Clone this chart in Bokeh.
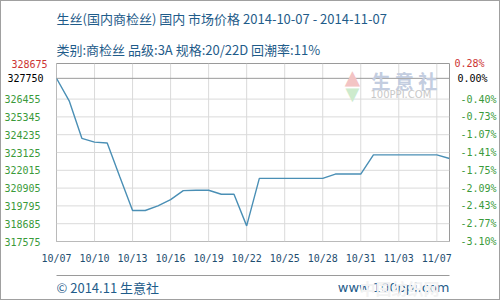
from bokeh.plotting import figure
from bokeh.models import Range1d, FixedTicker, LinearAxis, Span, Label, Title
from bokeh.layouts import column
from bokeh.embed import file_html
from bokeh.resources import INLINE

# ---- data ----
title_text = "生丝(国内商检丝) 国内 市场价格 2014-10-07 - 2014-11-07"
subtitle_text = "类别:商检丝 品级:3A 规格:20/22D 回潮率:11%"
footer_left = "© 2014.11 生意社"
footer_right = "www.100ppi.com"

dates = ["10/07", "10/08", "10/09", "10/10", "10/11", "10/12", "10/13", "10/14",
         "10/15", "10/16", "10/17", "10/18", "10/19", "10/20", "10/21", "10/22",
         "10/23", "10/24", "10/25", "10/26", "10/27", "10/28", "10/29", "10/30",
         "10/31", "11/01", "11/02", "11/03", "11/04", "11/05", "11/06", "11/07"]
prices = [327750, 326350, 324010, 323770, 323720, 321600, 319510, 319510,
          319800, 320190, 320750, 320770, 320770, 320520, 320520, 318550,
          321510, 321510, 321510, 321510, 321510, 321510, 321780, 321780,
          321780, 322980, 322980, 322980, 322980, 322980, 322980, 322750]

x_tick_labels = ["10/07", "10/10", "10/13", "10/16", "10/19", "10/22",
                 "10/25", "10/28", "10/31", "11/03", "11/07"]
y_ticks = [317575, 318685, 319795, 320905, 322015, 323125, 324235, 325345, 326455]
pct_labels = ["-3.10%", "-2.77%", "-2.43%", "-2.09%", "-1.75%", "-1.41%",
              "-1.07%", "-0.73%", "-0.40%"]
base_value = 327750
base_pct = "0.00%"
top_value = 328675
top_pct = "0.28%"
y_min = 317575

# ---- styles ----
GREEN = "#3a9a3a"
RED = "#cc3333"
BLUE = "#1f5c8a"
XLAB = "#1f4e70"
LINE = "#4a8fb5"
GRID = "#dadada"
FRAME = "#9a9a9a"
MONO = "DejaVu Sans Mono"
CJK = "Noto Sans CJK SC"

xs = list(range(len(dates)))
x_end = len(dates) - 1
x_ticks = list(range(0, x_end, 3))


def style_axis(ax, color, standoff, size="10px"):
    ax.major_label_text_font = MONO
    ax.major_label_text_font_size = size
    ax.major_label_text_color = color
    ax.major_label_standoff = standoff
    ax.major_tick_out = 0
    ax.major_tick_in = 0
    ax.minor_tick_out = 0
    ax.minor_tick_in = 0
    ax.axis_line_color = None


p = figure(width=498, height=273, title=None,
           x_range=Range1d(0, x_end), y_range=Range1d(y_min, top_value),
           output_backend="svg", toolbar_location=None,
           min_border_left=49, min_border_right=49, min_border_top=49,
           min_border_bottom=33)
p.background_fill_color = "white"
p.border_fill_color = "white"
p.outline_line_color = FRAME
p.outline_line_width = 1
p.xgrid.visible = False
p.ygrid.visible = False

# titles
p.add_layout(Title(text=subtitle_text, text_font=CJK, text_font_size="13px",
                   text_font_style="normal", text_color=BLUE), "above")
p.add_layout(Title(text=title_text, text_font=CJK, text_font_size="13px",
                   text_font_style="normal", text_color=BLUE), "above")

# x axis
xa = p.xaxis[0]
xa.ticker = FixedTicker(ticks=x_ticks)
xa.major_label_overrides = {t: lab for t, lab in zip(x_ticks, x_tick_labels)}
style_axis(xa, XLAB, 11)

# left side: innermost red (top value), then black (base), then green ticks
ya = p.yaxis[0]
ya.ticker = FixedTicker(ticks=[top_value])
ya.formatter.use_scientific = False
style_axis(ya, RED, 9)
yb = LinearAxis(ticker=FixedTicker(ticks=[base_value]))
yb.formatter.use_scientific = False
style_axis(yb, "black", -35)
p.add_layout(yb, "left")
yg = LinearAxis(ticker=FixedTicker(ticks=y_ticks))
yg.formatter.use_scientific = False
style_axis(yg, GREEN, -36)
p.add_layout(yg, "left")

# right side: percent labels
rr = LinearAxis(ticker=FixedTicker(ticks=[top_value]),
                major_label_overrides={top_value: top_pct})
style_axis(rr, RED, 5)
p.add_layout(rr, "right")
rb = LinearAxis(ticker=FixedTicker(ticks=[base_value]),
                major_label_overrides={base_value: base_pct})
style_axis(rb, "black", -30)
p.add_layout(rb, "right")
rg = LinearAxis(ticker=FixedTicker(ticks=y_ticks),
                major_label_overrides={v: s for v, s in zip(y_ticks, pct_labels)})
style_axis(rg, GREEN, -30)
p.add_layout(rg, "right")

# light grid lines at the tick positions
p.segment(x0=x_ticks, y0=[y_min] * len(x_ticks), x1=x_ticks, y1=[top_value] * len(x_ticks),
          line_color=GRID, line_width=1)
p.segment(x0=[0] * len(y_ticks), y0=y_ticks, x1=[x_end] * len(y_ticks), y1=y_ticks,
          line_color=GRID, line_width=1)

# base line
p.add_layout(Span(location=base_value, dimension="width",
                  line_color=FRAME, line_width=1))

# watermark logo
p.add_layout(Label(x=x_end, y=base_value, x_offset=-78, y_offset=-2, text="生 意 社",
                   text_align="left", text_baseline="middle", text_font=CJK,
                   text_font_size="19px", text_font_style="bold",
                   text_color="#c3cde0"))
p.add_layout(Label(x=x_end, y=base_value, x_offset=-79, y_offset=-16, text="100PPI.COM",
                   text_align="left", text_baseline="middle", text_font="DejaVu Sans",
                   text_font_size="10px", text_color="#c8c8c8"))
p.add_layout(Label(x=x_end, y=base_value, x_offset=-97, y_offset=1, text="▲",
                   text_align="center", text_baseline="middle", text_font="DejaVu Sans",
                   text_font_size="20px", text_color="#f3c4c4"))
p.add_layout(Label(x=x_end, y=base_value, x_offset=-97, y_offset=-15, text="▼",
                   text_align="center", text_baseline="middle", text_font="DejaVu Sans",
                   text_font_size="18px", text_color="#cdebcd"))

# price line
p.line(xs, prices, line_color=LINE, line_width=1.4)

# ---- footer ----
f = figure(width=498, height=25, title=None, x_range=Range1d(0, 1), y_range=Range1d(0, 1),
           output_backend="svg", toolbar_location=None,
           min_border_left=9, min_border_right=9, min_border_top=1, min_border_bottom=0,
           x_axis_location="above", y_axis_location=None)
f.outline_line_color = None
f.xgrid.visible = False
f.ygrid.visible = False
fa = f.xaxis[0]
fa.ticker = FixedTicker(ticks=[])
fa.axis_line_color = FRAME
fa.major_tick_out = 0
fa.major_tick_in = 0
fa.minor_tick_out = 0
fa.minor_tick_in = 0
fa.major_label_standoff = 0
f.add_layout(Label(x=0, y=0.5, text=footer_left, text_align="left", text_baseline="middle",
                   text_font=CJK, text_font_size="13px", text_color=BLUE))
f.add_layout(Label(x=1, y=0.5, text=footer_right, text_align="right", text_baseline="middle",
                   text_font="DejaVu Sans", text_font_size="13px", text_color=BLUE))
f.add_layout(Label(x=1, y=0.5, x_offset=-10, text="中国纺织网", text_align="right",
                   text_baseline="middle", text_font=CJK, text_font_size="16px",
                   text_font_style="bold", text_color="#f2f2f2"))

layout = column(p, f, spacing=0, styles={"border": "1px solid #a0a0a0"})
open("out.html", "w").write(file_html(layout, INLINE))
